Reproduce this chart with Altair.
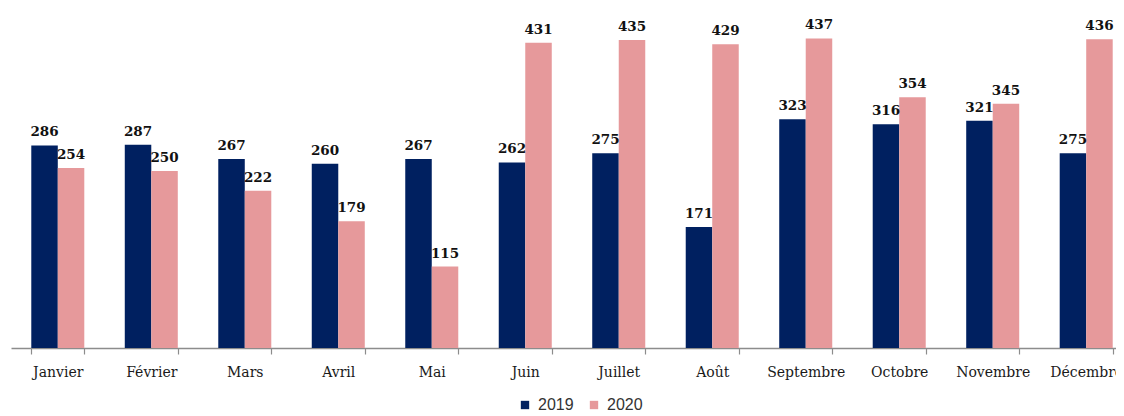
import altair as alt
import pandas as pd

months = ["Janvier", "Février", "Mars", "Avril", "Mai", "Juin", "Juillet",
          "Août", "Septembre", "Octobre", "Novembre", "Décembre"]
v2019 = [286, 287, 267, 260, 267, 262, 275, 171, 323, 316, 321, 275]
v2020 = [254, 250, 222, 179, 115, 431, 435, 429, 437, 354, 345, 436]
years = ["2019", "2020"]
colors = ["#002060", "#E6999B"]

rows = []
for m, a, b in zip(months, v2019, v2020):
    rows.append({"mois": m, "annee": "2019", "valeur": a})
    rows.append({"mois": m, "annee": "2020", "valeur": b})
df = pd.DataFrame(rows)

x = alt.X("mois:N", sort=months, title=None,
          scale=alt.Scale(paddingInner=0.433, paddingOuter=0.217, range=[0, 1122]),
          axis=alt.Axis(labelAngle=0, labelFont="DejaVu Serif", labelFontSize=14,
                        labelColor="#1a1a1a", labelPadding=11, tickBand="extent",
                        tickSize=6, tickColor="#8c8c8c", domainColor="#8c8c8c",
                        domainWidth=1.5, tickWidth=1.2, labelOverlap=False,
                        labelBound=False))
xo = alt.XOffset("annee:N", sort=years, scale=alt.Scale(paddingInner=0, paddingOuter=0))
y = alt.Y("valeur:Q", scale=alt.Scale(domain=[0, 480], nice=False), axis=None)

base = alt.Chart(df)
bars = base.mark_bar().encode(
    x=x, xOffset=xo, y=y,
    color=alt.Color("annee:N", sort=years,
                    scale=alt.Scale(domain=years, range=colors),
                    legend=alt.Legend(title=None, orient="none", legendX=506, legendY=389,
                                      direction="horizontal", symbolType="square",
                                      symbolSize=70, symbolStrokeWidth=0,
                                      labelFont="Liberation Sans", labelFontSize=16,
                                      labelColor="#333333", columnPadding=12,
                                      labelOffset=5, symbolOffset=0)),
)
labels = base.mark_text(font="DejaVu Serif", fontWeight="bold", fontSize=13.5,
                        baseline="alphabetic", dy=-9, color="#111111").encode(
    x=x, xOffset=xo, y=y, text=alt.Text("valeur:Q")
)

chart = alt.layer(bars, labels).properties(
    width=1105, height=340,
    autosize=alt.AutoSizeParams(type="none"),
    padding={"left": 3, "top": 0, "right": 0, "bottom": 68},
).configure_view(stroke=None)

chart.save("out.html", embed_options={"renderer": "svg", "actions": False})
